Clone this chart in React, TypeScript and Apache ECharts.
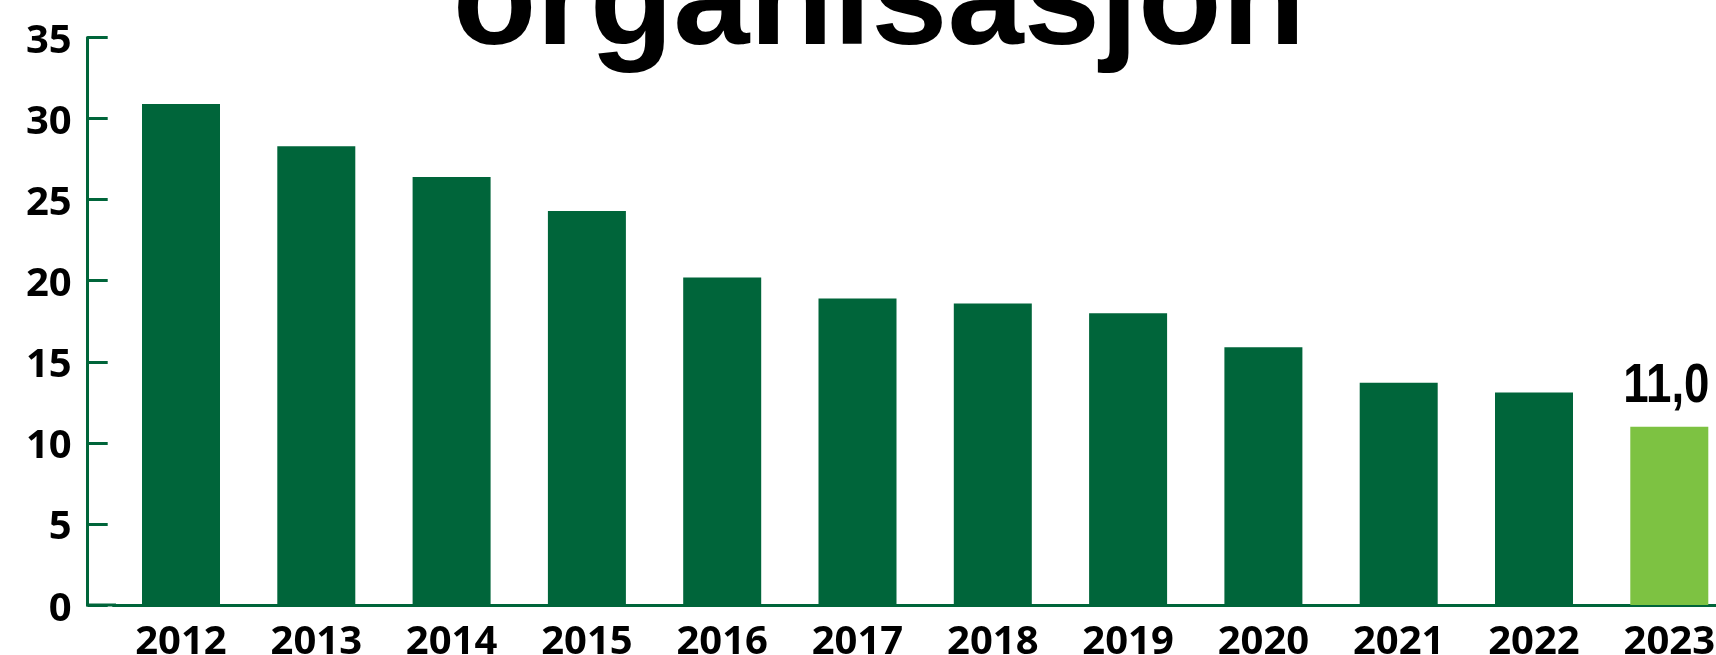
import React, { useEffect, useRef } from 'react';
import * as echarts from 'echarts';

const years = ['2012', '2013', '2014', '2015', '2016', '2017', '2018', '2019', '2020', '2021', '2022', '2023'];
const values = [30.9, 28.3, 26.4, 24.3, 20.2, 18.9, 18.6, 18.0, 15.9, 13.7, 13.1, 11.0];
const yTicks = [0, 5, 10, 15, 20, 25, 30, 35];
const titleText = 'organisasjon';
const highlightYear = '2023';

const DARK = '#00653A';
const LIGHT = '#7DC242';
const AXIS_FONT = "'Noto Sans', 'Open Sans', sans-serif";
const LABEL_FONT = "'Liberation Sans', Arial, sans-serif";
const TITLE_FONT = "'Liberation Sans', Arial, sans-serif";

export default function App() {
  const ref = useRef<HTMLDivElement>(null);

  useEffect(() => {
    if (!ref.current) return;
    const chart = echarts.init(ref.current, null, { renderer: 'svg' });
    const hiIndex = years.indexOf(highlightYear);
    const data = values.map((v, i) =>
      i === hiIndex ? { value: v, itemStyle: { color: LIGHT } } : { value: v }
    );
    chart.setOption({
      animation: false,
      grid: {
        left: 113.35,
        width: 1623.6,
        top: 37.5,
        bottom: 50,
        containLabel: false,
        outerBoundsMode: 'none',
      },
      xAxis: {
        type: 'category',
        data: years,
        axisLine: { show: true, lineStyle: { color: DARK, width: 3 } },
        axisTick: { show: false },
        axisLabel: {
          margin: 13,
          color: '#000',
          fontSize: 40,
          fontWeight: 'bold',
          fontFamily: AXIS_FONT,
          interval: 0,
        },
      },
      yAxis: {
        type: 'value',
        min: yTicks[0],
        max: yTicks[yTicks.length - 1],
        interval: yTicks[1] - yTicks[0],
        offset: 25.65,
        axisLine: { show: true, lineStyle: { color: DARK, width: 3 } },
        axisTick: { show: true, inside: true, length: 20, lineStyle: { color: DARK, width: 3 } },
        splitLine: { show: false },
        axisLabel: {
          margin: 16,
          color: '#000',
          fontSize: 40,
          fontWeight: 'bold',
          fontFamily: AXIS_FONT,
        },
      },
      series: [
        {
          type: 'bar',
          data,
          barWidth: 78,
          itemStyle: { color: DARK },
        },
      ],
    });
    const y0 = chart.convertToPixel({ yAxisIndex: 0 }, 0) as number;
    const hiPos = chart.convertToPixel({ seriesIndex: 0 }, [hiIndex, values[hiIndex]]) as number[];
    const hiText = values[hiIndex].toFixed(1).replace('.', ',');
    chart.setOption({
      graphic: [
        {
          type: 'line',
          shape: { x1: 86, y1: y0, x2: 116, y2: y0 },
          style: { stroke: DARK, lineWidth: 3 },
          z: 10,
        },
        {
          type: 'text',
          x: hiPos[0] - 3,
          y: hiPos[1] - 44,
          scaleX: 0.83,
          style: {
            text: hiText,
            fill: '#000',
            font: `bold 55px ${LABEL_FONT}`,
            textAlign: 'center',
            textVerticalAlign: 'middle',
          },
        },
        {
          type: 'text',
          x: 879,
          y: -3.5,
          style: {
            text: titleText,
            fill: '#000',
            font: `bold 137px ${TITLE_FONT}`,
            textAlign: 'center',
            textVerticalAlign: 'middle',
          },
        },
      ],
    });
    return () => chart.dispose();
  }, []);

  return (
    <div
      ref={ref}
      style={{ position: 'fixed', left: 0, top: 0, width: 1716, height: 655 }}
    />
  );
}
